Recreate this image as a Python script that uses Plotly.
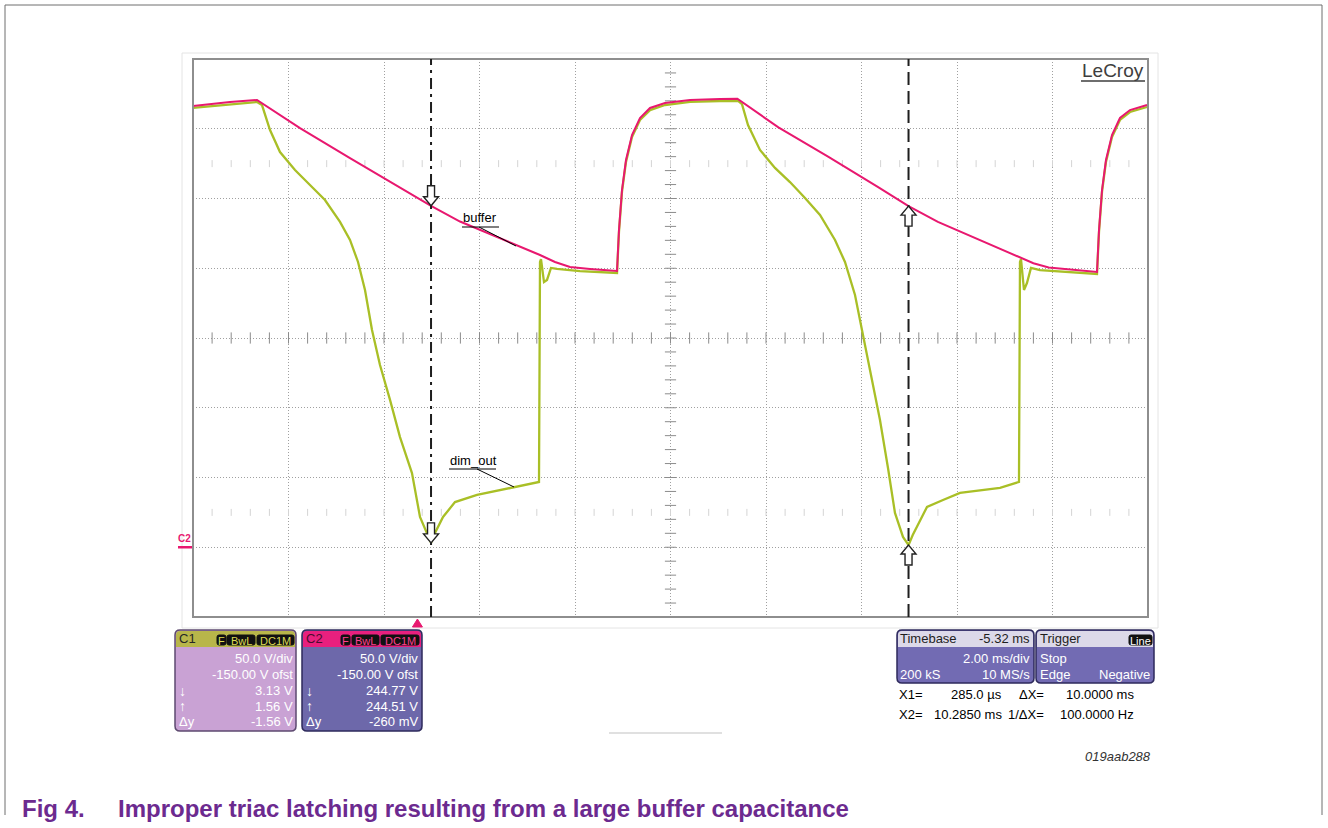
import plotly.graph_objects as go

# ---------------- scope settings ----------------
MS_PER_DIV = 2.0          # timebase
V_PER_DIV = 50.0          # both channels
V_OFFSET = -150.0         # channel offset -> screen centre is +150 V
T_LEFT = -4.70            # time at left screen edge, trigger at 0 ms
H_DIVS, V_DIVS = 10, 8
V_CENTER = -V_OFFSET

# ---------------- cursors ----------------
X1_MS, X2_MS = 0.285, 10.285
C1_AT_X = [3.13, 1.56]        # dim_out at X1, X2 (V)
C2_AT_X = [244.77, 244.51]    # buffer at X1, X2 (V)

# ---------------- C2: buffer (V) ----------------
buffer_ms = [-4.70, -4.344, -3.925, -3.360, -2.459, -1.412, -0.365, 0.285, 0.892, 1.729,
             2.567, 2.881, 3.195, 3.614, 4.138,
             4.180, 4.221, 4.284, 4.368, 4.494, 4.661, 4.871, 5.185, 5.709, 6.337, 6.70,
             7.56, 8.60, 9.64, 10.285, 10.90, 11.75, 12.58, 12.90, 13.22, 13.70, 14.232,
             14.274, 14.337, 14.420, 14.546, 14.713, 14.923, 15.279]
buffer_v = [316.3, 317.7, 319.2, 320.6, 300.5, 279.0, 258.0, 244.77, 233.5, 221.7,
            209.5, 204.5, 200.9, 199.5, 198.0,
            198.0, 227.4, 256.1, 277.6, 295.5, 307.7, 314.9, 318.5, 320.6, 321.3, 321.5,
            301.0, 280.0, 258.3, 244.51, 233.2, 220.8, 208.6, 203.6, 200.5, 199.0, 197.3,
            227.4, 256.1, 277.6, 295.5, 307.7, 313.4, 317.0]

# ---------------- C1: dim_out (V) ----------------
dim_ms = [-4.70, -3.925, -3.360, -3.255, -3.087, -2.878, -2.564, -2.250, -1.936, -1.621,
          -1.412, -1.244, -1.098, -0.951, -0.784, -0.574, -0.365, -0.114, 0.054, 0.285,
          0.326, 0.536, 0.787, 1.248, 2.002, 2.504, 2.546, 2.567, 2.588, 2.651,
          2.714, 2.797, 2.923, 3.405, 4.138, 4.180, 4.221, 4.284, 4.368, 4.494,
          4.661, 4.871, 5.185, 5.709, 6.337, 6.714,
          6.797, 6.923, 7.174, 7.488, 7.802, 8.117, 8.431, 8.745, 8.954, 9.164,
          9.310, 9.478, 9.687, 9.855, 10.001, 10.169, 10.285, 10.373, 10.672, 11.007,
          11.363, 12.201, 12.556, 12.598, 12.619, 12.640, 12.703, 12.765, 12.849, 13.038,
          14.232, 14.274, 14.337, 14.420, 14.546, 14.713, 14.923, 15.279]
dim_v = [314.9, 317.7, 319.2, 317.0, 299.1, 283.3, 270.4, 259.7, 248.9, 233.2,
         220.3, 204.5, 184.4, 155.7, 130.6, 105.6, 79.0, 53.2, 21.7, 3.13,
         7.4, 21.7, 32.4, 37.5, 43.2, 46.8, 46.8, 204.5, 206.6, 190.1,
         191.6, 200.2, 199.5, 198.0, 196.6, 196.6, 226.0, 254.7, 276.2, 294.1,
         306.3, 313.4, 317.0, 319.2, 319.9, 320.0,
         317.7, 302.7, 284.8, 271.9, 261.8, 250.4, 238.2, 220.3, 204.5, 180.8,
         155.7, 127.1, 91.2, 56.8, 24.6, 7.4, 1.56, 8.8, 28.9, 33.9,
         38.9, 42.5, 46.8, 46.8, 204.5, 206.6, 184.4, 189.4, 200.2, 198.7,
         195.9, 226.0, 254.7, 276.2, 294.1, 306.3, 312.0, 315.6]

# ---------------- readout panels ----------------
C1_BADGES = ["F", "BwL", "DC1M"]
C2_BADGES = ["F", "BwL", "DC1M"]
C1_ROWS = [("", "50.0 V/div"), ("", "-150.00 V ofst"), ("↓", f"{C1_AT_X[0]:.2f} V"),
           ("↑", f"{C1_AT_X[1]:.2f} V"), ("Δy", "-1.56 V")]
C2_ROWS = [("", "50.0 V/div"), ("", "-150.00 V ofst"), ("↓", f"{C2_AT_X[0]:.2f} V"),
           ("↑", f"{C2_AT_X[1]:.2f} V"), ("Δy", "-260 mV")]
TIMEBASE = ("Timebase", "-5.32 ms", "2.00 ms/div", "200 kS", "10 MS/s")
TRIGGER = ("Trigger", "Line", "Stop", "Edge", "Negative")
CURSOR_ROWS = [("X1=", "285.0 µs", "ΔX=", "10.0000 ms"),
               ("X2=", "10.2850 ms", "1/ΔX=", "100.0000 Hz")]

PINK = "#e8186f"
GREEN = "#a9bf26"
FONT = "Liberation Sans, Arial, sans-serif"

# plot-area pixel box (1328 x 828 page)
W, H = 1328, 828
PL, PR, PT, PB = 193, 1148, 59, 617


def px(x):
    return (x - PL) / (PR - PL)


def py(y):
    return (PB - y) / (PB - PT)


x_range = [T_LEFT, T_LEFT + H_DIVS * MS_PER_DIV]
y_range = [V_CENTER - V_DIVS / 2 * V_PER_DIV, V_CENTER + V_DIVS / 2 * V_PER_DIV]

fig = go.Figure()

# centre-cross minor ticks and faint tick rows
t_mid = T_LEFT + H_DIVS / 2 * MS_PER_DIV
h_ticks = [T_LEFT + i * MS_PER_DIV / 5 for i in range(1, H_DIVS * 5)]
v_ticks = [y_range[0] + i * V_PER_DIV / 5 for i in range(1, V_DIVS * 5)]
fig.add_trace(go.Scatter(x=h_ticks, y=[V_CENTER] * len(h_ticks), mode="markers",
                         marker=dict(symbol="line-ns", size=8, color="#8c8c8c",
                                     line=dict(width=1, color="#8c8c8c")),
                         hoverinfo="skip", showlegend=False))
fig.add_trace(go.Scatter(x=[t_mid] * len(v_ticks), y=v_ticks, mode="markers",
                         marker=dict(symbol="line-ew", size=8, color="#8c8c8c",
                                     line=dict(width=1, color="#8c8c8c")),
                         hoverinfo="skip", showlegend=False))
for row_v in (V_CENTER + 2.5 * V_PER_DIV, V_CENTER - 2.5 * V_PER_DIV):
    fig.add_trace(go.Scatter(x=h_ticks, y=[row_v] * len(h_ticks), mode="markers",
                             marker=dict(symbol="line-ns", size=5, color="#d4d4d4",
                                         line=dict(width=1, color="#d4d4d4")),
                             hoverinfo="skip", showlegend=False))

# waveforms
fig.add_trace(go.Scatter(x=dim_ms, y=dim_v, mode="lines", name="dim_out",
                         line=dict(color=GREEN, width=2.3), showlegend=False))
fig.add_trace(go.Scatter(x=buffer_ms, y=buffer_v, mode="lines", name="buffer",
                         line=dict(color=PINK, width=2), showlegend=False))

shapes = []
annotations = []


def line_px(x0, y0, x1, y1, color, width=1):
    shapes.append(dict(type="line", xref="paper", yref="paper",
                       x0=px(x0), y0=py(y0), x1=px(x1), y1=py(y1),
                       line=dict(color=color, width=width), layer="above"))


def text_px(x, y, text, size=13, color="black", anchor="left", **font_kw):
    annotations.append(dict(x=px(x), y=py(y), xref="paper", yref="paper", text=text,
                            showarrow=False, xanchor=anchor, yanchor="middle",
                            borderpad=0,
                            font=dict(family=FONT, size=size, color=color, **font_kw)))


def rounded_path(l, t, r, b, rad, top=True, bottom=True):
    rt = rad if top else 0
    rb = rad if bottom else 0
    p = f"M {px(l + rt)},{py(t)} L {px(r - rt)},{py(t)} "
    p += f"Q {px(r)},{py(t)} {px(r)},{py(t + rt)} " if rt else ""
    p += f"L {px(r)},{py(b - rb)} "
    p += f"Q {px(r)},{py(b)} {px(r - rb)},{py(b)} " if rb else ""
    p += f"L {px(l + rb)},{py(b)} "
    p += f"Q {px(l)},{py(b)} {px(l)},{py(b - rb)} " if rb else ""
    p += f"L {px(l)},{py(t + rt)} "
    p += f"Q {px(l)},{py(t)} {px(l + rt)},{py(t)} " if rt else ""
    return p + "Z"


def panel(l, t, r, b, head_b, head_col, body_col, edge_col):
    shapes.append(dict(type="path", xref="paper", yref="paper",
                       path=rounded_path(l, t, r, b, 5), fillcolor=body_col,
                       line=dict(color=edge_col, width=1.5), layer="above"))
    shapes.append(dict(type="path", xref="paper", yref="paper",
                       path=rounded_path(l + 1, t + 1, r - 1, head_b, 4, bottom=False),
                       fillcolor=head_col, line=dict(width=0), layer="above"))


def badge(l, r, text, txt_col, t=635, b=645):
    shapes.append(dict(type="path", xref="paper", yref="paper",
                       path=rounded_path(l, t, r, b, 2), fillcolor="#111111",
                       line=dict(color="#111111", width=1), layer="above"))
    text_px((l + r) / 2, (t + b) / 2 + 0.5, text, size=11, color=txt_col, anchor="center")


# page frame
line_px(5, 5, 1322, 5, "#6e6e6e")
line_px(5, 5, 5, 815, "#6e6e6e")
line_px(1322, 5, 1322, 815, "#6e6e6e")

# screen bezel and graticule frame
shapes.append(dict(type="rect", xref="paper", yref="paper", x0=px(182), y0=py(628),
                   x1=px(1158), y1=py(53), line=dict(color="#e4e4e4", width=1), layer="below"))
shapes.append(dict(type="rect", xref="paper", yref="paper", x0=0, y0=0, x1=1, y1=1,
                   line=dict(color="#8e8e8e", width=2), layer="above"))

# cursor lines
shapes.append(dict(type="line", xref="x", yref="paper", x0=X1_MS, x1=X1_MS, y0=0, y1=1,
                   line=dict(color="#1e1e1e", width=2, dash="11px,5px,3px,5px"), layer="above"))
shapes.append(dict(type="line", xref="x", yref="paper", x0=X2_MS, x1=X2_MS, y0=0, y1=1,
                   line=dict(color="#1e1e1e", width=2, dash="13px,6px"), layer="above"))

# cursor arrows on the traces
DOWN_ARROW = "M 0,0 L -7.5,9 L -3.5,9 L -3.5,20 L 3.5,20 L 3.5,9 L 7.5,9 Z"
UP_ARROW = "M 0,0 L -7.5,-9 L -3.5,-9 L -3.5,-20 L 3.5,-20 L 3.5,-9 L 7.5,-9 Z"
for xa, ya, pth in [(X1_MS, C2_AT_X[0], DOWN_ARROW), (X1_MS, C1_AT_X[0], DOWN_ARROW),
                    (X2_MS, C2_AT_X[1], UP_ARROW), (X2_MS, C1_AT_X[1], UP_ARROW)]:
    shapes.append(dict(type="path", xref="x", yref="y", xsizemode="pixel", ysizemode="pixel",
                       xanchor=xa, yanchor=ya, path=pth, fillcolor="white",
                       line=dict(color="#222222", width=1.4), layer="above"))

# trigger marker (t = 0) below the graticule
shapes.append(dict(type="path", xref="x", yref="paper", xsizemode="pixel", ysizemode="pixel",
                   xanchor=0, yanchor=0, path="M -5,-10 L 5,-10 L 0,-2 Z",
                   fillcolor=PINK, line=dict(color=PINK, width=1), layer="above"))

# C2 ground reference marker at 0 V
shapes.append(dict(type="line", xref="paper", yref="y", x0=px(178), x1=px(192), y0=0, y1=0,
                   line=dict(color=PINK, width=2.5), layer="above"))
annotations.append(dict(x=px(184), y=0, xref="paper", yref="y", yshift=9, text="C2",
                        showarrow=False, xanchor="center", yanchor="middle",
                        font=dict(family=FONT, size=10, color=PINK, weight="bold")))

# LeCroy logo
text_px(1145, 71, "LeCroy", size=19, color="#3e3e3e", anchor="right")
line_px(1081, 81, 1145, 81, "#3e3e3e", 1.6)

# trace labels with leaders
text_px(462, 218, "buffer", size=13)
line_px(462, 227, 499, 227, "black", 1.2)
line_px(479, 227, 516, 246, "black", 1)
text_px(449, 460, "dim_out", size=13)
line_px(449, 469, 496, 469, "black", 1.2)
line_px(477, 469, 514, 487, "black", 1)

# C1 panel
ROW_Y = [658, 674.5, 690.5, 706, 721.5]
panel(175, 630, 296, 731, 647, "#b8b64a", "#c9a2d4", "#5e4a70")
text_px(178, 638.5, "C1", size=13, color="#262626")
for (bl, br), s in zip([(217, 226), (227, 255), (257, 294)], C1_BADGES):
    badge(bl, br, s, "#dcdb52")
for yy, (lead, val) in zip(ROW_Y, C1_ROWS):
    if lead:
        text_px(178, yy, lead, size=14 if len(lead) == 1 else 13, color="white")
    text_px(294, yy, val, color="white", anchor="right")

# C2 panel
panel(302, 630, 422, 731, 647, "#e8207e", "#6d68aa", "#2e2a5c")
text_px(305, 638.5, "C2", size=13, color="#4a0c2e")
for (bl, br), s in zip([(341, 350), (352, 379), (381, 419)], C2_BADGES):
    badge(bl, br, s, "#ff3f8e")
for yy, (lead, val) in zip(ROW_Y, C2_ROWS):
    if lead:
        text_px(305, yy, lead, size=14 if len(lead) == 1 else 13, color="white")
    text_px(419, yy, val, color="white", anchor="right")

# Timebase panel
panel(897, 630, 1034, 683, 647, "#dcd9e9", "#726bb3", "#2e2a5c")
text_px(899, 638.5, TIMEBASE[0], color="#1e1e1e")
text_px(1031, 638.5, TIMEBASE[1], color="#1e1e1e", anchor="right")
text_px(1031, 658, TIMEBASE[2], color="white", anchor="right")
text_px(899, 674.5, TIMEBASE[3], color="white")
text_px(1031, 674.5, TIMEBASE[4], color="white", anchor="right")

# Trigger panel
panel(1036, 630, 1154, 683, 647, "#dcd9e9", "#726bb3", "#2e2a5c")
text_px(1039, 638.5, TRIGGER[0], color="#1e1e1e")
badge(1129, 1152, TRIGGER[1], "white")
text_px(1039, 658, TRIGGER[2], color="white")
text_px(1039, 674.5, TRIGGER[3], color="white")
text_px(1151, 674.5, TRIGGER[4], color="white", anchor="right")

# cursor readouts
for yy, (a, b, c, d) in zip([694, 714], CURSOR_ROWS):
    text_px(898, yy, a)
    text_px(1003, yy, b, anchor="right")
    text_px(1045, yy, c, anchor="right")
    text_px(1135, yy, d, anchor="right")

line_px(609, 733, 722, 733, "#d6d6d6", 1.5)

# figure id and caption
text_px(1152, 756, "019aab288", size=13, color="#333333", anchor="right", style="italic")
CAPTION_COL = "#6c2a8f"
text_px(21, 808, "Fig 4.", size=24, color=CAPTION_COL, weight="bold")
text_px(117, 808, "Improper triac latching resulting from a large buffer capacitance",
        size=24, color=CAPTION_COL, weight="bold")

fig.update_layout(
    width=W, height=H, autosize=False,
    margin=dict(l=PL, r=W - PR, t=PT, b=H - PB, pad=0),
    paper_bgcolor="white", plot_bgcolor="white",
    showlegend=False,
    shapes=shapes, annotations=annotations,
    xaxis=dict(range=x_range, tick0=T_LEFT, dtick=MS_PER_DIV, showgrid=True,
               gridcolor="#a0a0a0", griddash="1px,2px", gridwidth=1,
               showticklabels=False, ticks="", zeroline=False, showline=False,
               fixedrange=True),
    yaxis=dict(range=y_range, tick0=y_range[0], dtick=V_PER_DIV, showgrid=True,
               gridcolor="#a0a0a0", griddash="1px,2px", gridwidth=1,
               showticklabels=False, ticks="", zeroline=False, showline=False,
               fixedrange=True),
)

fig.write_html("out.html")
